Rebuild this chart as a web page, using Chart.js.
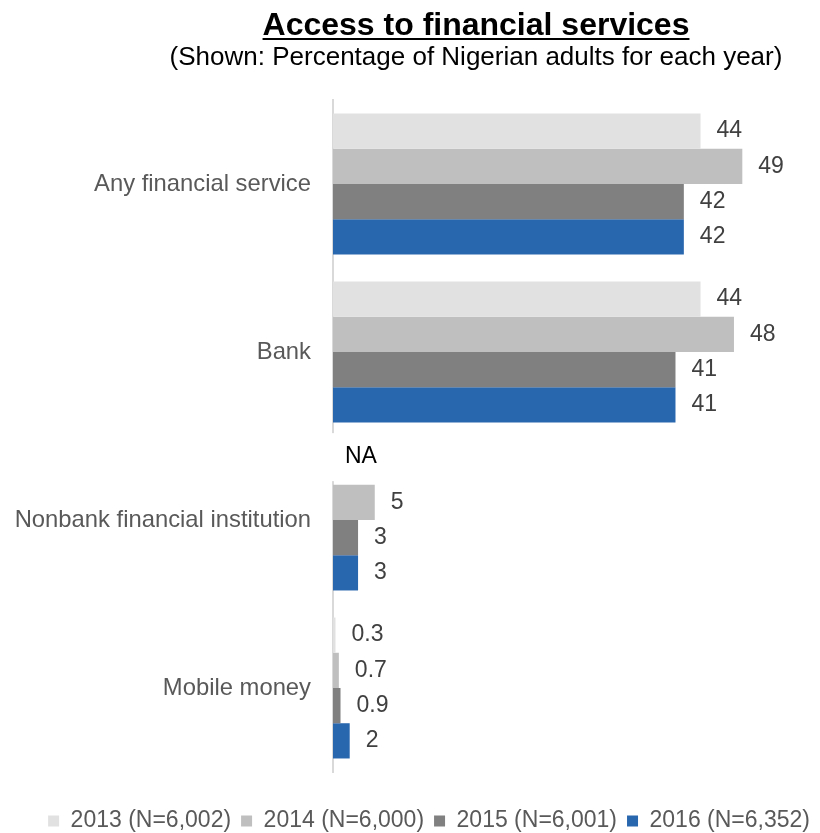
<!DOCTYPE html>
<html>
<head>
<meta charset="utf-8">
<script src="https://cdn.jsdelivr.net/npm/chart.js@4"></script>
<style>
    body {
        margin: 0;
        background: #ffffff;
        font-family: 'Liberation Sans', Arial, sans-serif;
    }
    #wrap {
        position: relative;
        width: 820px;
        height: 833px;
        overflow: hidden;
    }
    #chart {
        position: absolute;
        left: 0;
        top: 0;
    }
    .heading {
        position: absolute;
        left: 476px;
        transform: translateX(-50%);
        white-space: nowrap;
        color: #000000;
    }
    #title {
        top: 8px;
        font-size: 32px;
        line-height: 32px;
        font-weight: bold;
        text-decoration: underline;
        text-decoration-thickness: 2px;
        text-underline-offset: 3px;
    }
    #subtitle {
        top: 43px;
        font-size: 26px;
        line-height: 26px;
    }
</style>
</head>
<body>
<div id="wrap">
    <canvas id="chart" width="820" height="833"></canvas>
    <div id="title" class="heading">Access to financial services</div>
    <div id="subtitle" class="heading">(Shown: Percentage of Nigerian adults for each year)</div>
</div>
<script>
// Categories and yearly values (percent of adults)
const categories = ['Any financial service', 'Bank', 'Nonbank financial institution', 'Mobile money'];
const years = ['2013 (N=6,002)', '2014 (N=6,000)', '2015 (N=6,001)', '2016 (N=6,352)'];
const values2013 = [44, 44, null, 0.3];
const values2014 = [49, 48, 5, 0.7];
const values2015 = [42, 41, 3, 0.9];
const values2016 = [42, 41, 3, 2];
const xMax = 58.3;

const barColors = ['#e1e1e1', '#bfbfbf', '#808080', '#2866ae'];
const fontFamily = "'Liberation Sans', Arial, sans-serif";

// Value labels at the end of each bar, "NA" where there is no value
const valueLabels = {
    id: 'valueLabels',
    afterDatasetsDraw(chart) {
        const ctx = chart.ctx;
        const left = chart.chartArea.left;
        ctx.save();
        ctx.font = `23px ${fontFamily}`;
        ctx.textAlign = 'left';
        ctx.textBaseline = 'middle';
        chart.data.datasets.forEach((ds, di) => {
            const meta = chart.getDatasetMeta(di);
            meta.data.forEach((bar, i) => {
                const v = ds.data[i];
                if (v === null) {
                    // take the slot centre from the neighbouring bars
                    const next = chart.getDatasetMeta(di + 1).data[i];
                    const after = chart.getDatasetMeta(di + 2).data[i];
                    const y = next.y - (after.y - next.y) - 10;
                    const w = ctx.measureText('NA').width;
                    ctx.fillStyle = '#ffffff';
                    ctx.fillRect(left - 4, y - 24, w + 20, 48);
                    ctx.fillStyle = '#000000';
                    ctx.fillText('NA', left + 12, y);
                    return;
                }
                ctx.fillStyle = '#404040';
                ctx.fillText(String(v), bar.x + 16, bar.y);
            });
        });
        ctx.restore();
    }
};

function initChart() {
    const ctx = document.getElementById('chart').getContext('2d');
    const series = [values2013, values2014, values2015, values2016];
    new Chart(ctx, {
        type: 'bar',
        data: {
            labels: categories,
            datasets: series.map((data, i) => ({
                label: years[i],
                data: data,
                backgroundColor: barColors[i],
                borderWidth: 0,
                barPercentage: 1,
                categoryPercentage: 0.839
            }))
        },
        options: {
            indexAxis: 'y',
            responsive: false,
            animation: false,
            layout: {
                padding: { top: 100, right: 0, bottom: -9.5, left: 0 }
            },
            scales: {
                x: {
                    // no visible axis, only keeps a gap above the legend
                    min: 0,
                    max: xMax,
                    grid: { display: false, drawTicks: false },
                    border: { display: false },
                    ticks: { display: false },
                    afterFit: (axis) => { axis.height = 27.5; }
                },
                y: {
                    grid: { display: false, drawTicks: false },
                    border: { display: true, color: '#d9d9d9', width: 2 },
                    ticks: {
                        color: '#595959',
                        padding: 22,
                        font: { size: 23.8, family: fontFamily }
                    },
                    afterFit: (axis) => { axis.width = 333; }
                }
            },
            plugins: {
                legend: {
                    position: 'bottom',
                    align: 'end',
                    labels: {
                        boxWidth: 11,
                        boxHeight: 11,
                        padding: 10,
                        color: '#595959',
                        font: { size: 23, family: fontFamily }
                    }
                },
                tooltip: { enabled: false }
            }
        },
        plugins: [valueLabels]
    });
}

document.addEventListener('DOMContentLoaded', initChart);
</script>
</body>
</html>
